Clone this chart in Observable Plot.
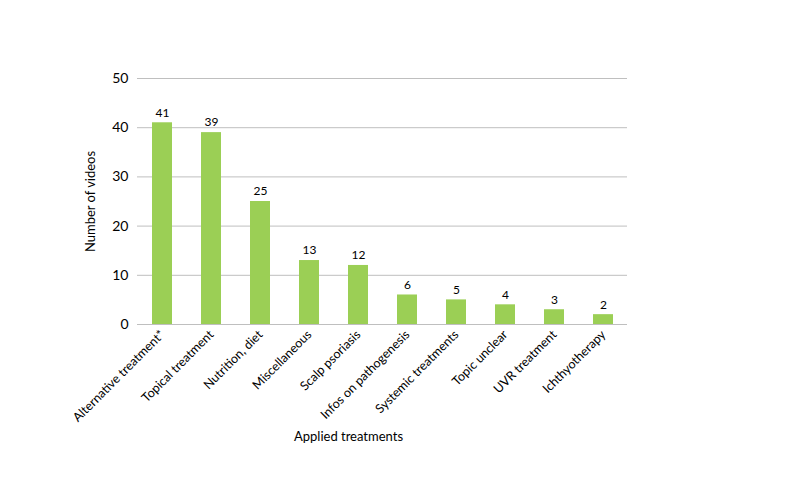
<!DOCTYPE html>
<html>
<head>
<meta charset="utf-8">
<script src="https://cdn.jsdelivr.net/npm/d3@7"></script>
<script src="https://cdn.jsdelivr.net/npm/@observablehq/plot@0.6"></script>
<style>
body { margin: 0; background: #fff; }
#chart svg { font-family: Lato, "Open Sans", sans-serif; }
</style>
</head>
<body>
<div id="chart"></div>
<script>
const categories = ["Alternative treatment*", "Topical treatment", "Nutrition, diet", "Miscellaneous", "Scalp psoriasis", "Infos on pathogenesis", "Systemic treatments", "Topic unclear", "UVR treatment", "Ichthyotherapy"];
const values = [41, 39, 25, 13, 12, 6, 5, 4, 3, 2];
const yTicks = [0, 10, 20, 30, 40, 50];

const data = categories.map((c, i) => ({category: c, value: values[i]}));

const chart = Plot.plot({
  width: 800,
  height: 500,
  marginLeft: 137,
  marginRight: 173,
  marginTop: 78,
  marginBottom: 176,
  style: {fontFamily: "Lato, 'Open Sans', sans-serif", fontSize: "12px", color: "#000", background: "#fff"},
  x: {domain: categories, paddingInner: 0.6, paddingOuter: 0.3, label: null, axis: null},
  y: {domain: [0, 50], ticks: yTicks, label: null, axis: null},
  marks: [
    Plot.ruleY(yTicks.filter(d => d > 0), {stroke: "#bfbfbf", strokeWidth: 1}),
    Plot.ruleX([0], {frameAnchor: "left", stroke: "#bfbfbf"}),
    Plot.barY(data, {x: "category", y: "value", fill: "#9bcf55"}),
    Plot.ruleY([0], {stroke: "#bfbfbf", strokeWidth: 1}),
    Plot.axisY({ticks: yTicks, tickSize: 0, tickPadding: 9, label: null, fontSize: 14}),
    Plot.axisX({tickSize: 0, tickRotate: -45, tickPadding: 8, label: null, fontSize: 12.5}),
    Plot.text(data, {x: "category", y: "value", text: d => String(d.value), dy: -10, fontSize: 12}),
    Plot.text(["Number of videos"], {frameAnchor: "left", textAnchor: "middle", dx: -47, rotate: -90, fontSize: 13}),
    Plot.text(["Applied treatments"], {frameAnchor: "bottom", dy: 116, dx: -34, fontSize: 13})
  ]
});
document.getElementById("chart").appendChild(chart);
</script>
</body>
</html>
